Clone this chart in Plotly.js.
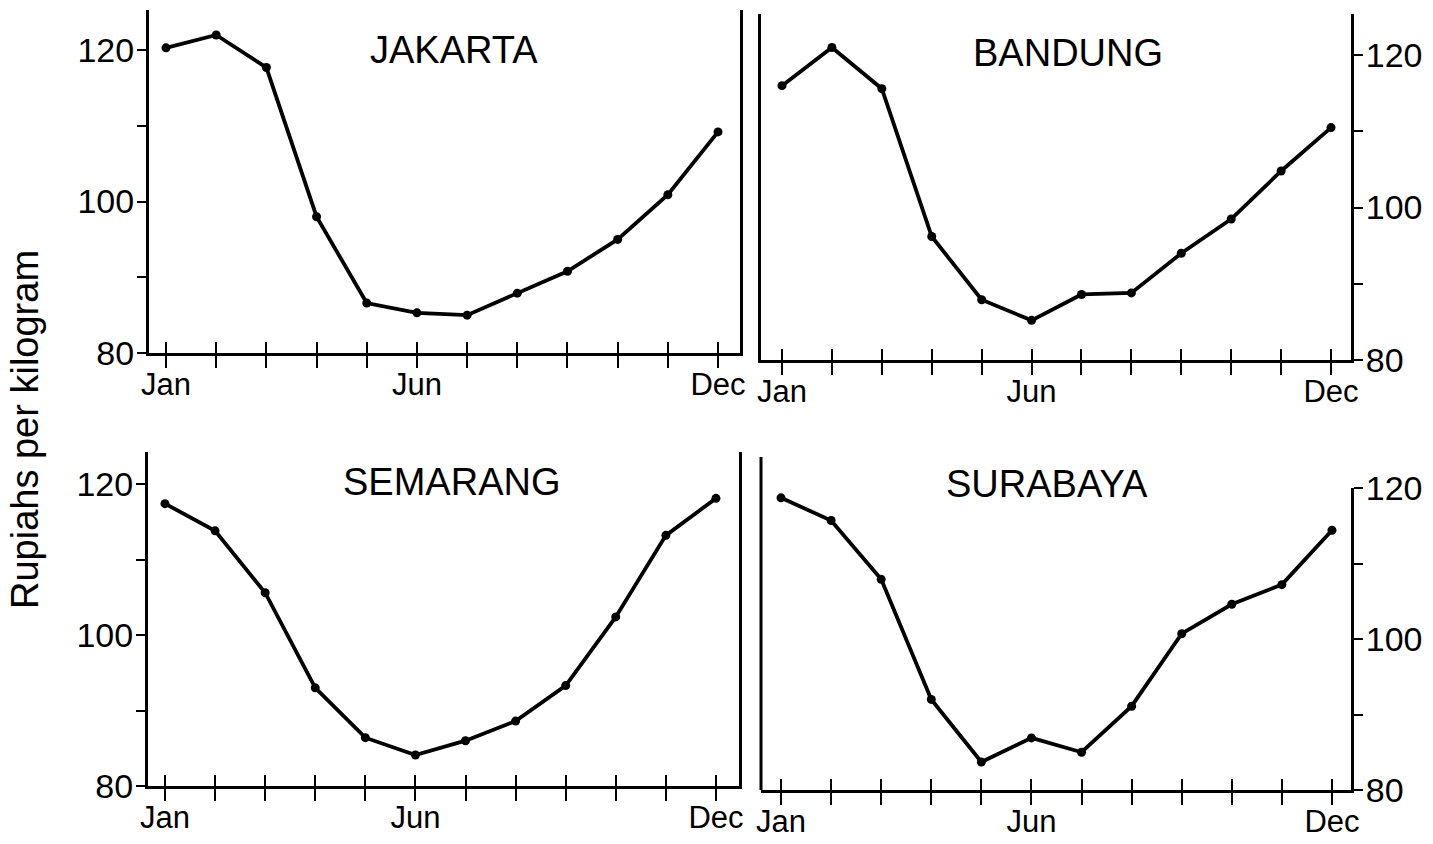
<!DOCTYPE html>
<html>
<head>
<meta charset="utf-8">
<script src="https://cdn.plot.ly/plotly-3.0.1.min.js"></script>
<style>html,body{margin:0;padding:0;background:#fff;}#chart{width:1433px;height:844px;}</style>
</head>
<body>
<div id="chart"></div>
<script>
// ---- data ----
const monthIndex = [1,2,3,4,5,6,7,8,9,10,11,12];
const monthTickText = ['Jan','','','','','Jun','','','','','','Dec'];
const cities = ['JAKARTA','BANDUNG','SEMARANG','SURABAYA'];
const jakarta  = [120.3, 122.0, 117.7, 98.0, 86.6, 85.3, 85.0, 87.9, 90.8, 95.0, 100.9, 109.2];
const bandung  = [116.0, 121.0, 115.6, 96.2, 87.9, 85.2, 88.6, 88.8, 94.0, 98.5, 104.8, 110.5];
const semarang = [117.4, 113.8, 105.6, 93.0, 86.4, 84.1, 86.0, 88.6, 93.3, 102.4, 113.2, 118.1];
const surabaya = [118.7, 115.7, 107.9, 92.0, 83.7, 86.9, 85.0, 91.1, 100.7, 104.6, 107.2, 114.4];
const yTickVals = [80, 90, 100, 110, 120];
const yTickText = ['80', '', '100', '', '120'];
const yAxisTitle = 'Rupiahs per kilogram';

// ---- layout helpers ----
const W = 1433, H = 844;
const px = x => x / W;
const py = y => 1 - y / H;
const FONT = 'Liberation Sans, Arial, sans-serif';

const series = [jakarta, bandung, semarang, surabaya];
const panels = [
  {x0:149, x1:740, y0:10,  y1:353, xr:[0.661,12.438], yr:[80,125.3], side:'left'},
  {x0:761, x1:1351, y0:14, y1:360, xr:[0.579,12.40],  yr:[80,125.4], side:'right'},
  {x0:148, x1:739, y0:452, y1:786, xr:[0.661,12.46],  yr:[80,124.24], side:'left'},
  {x0:761, x1:1351, y0:488, y1:790, xr:[0.60,12.38],  yr:[80,120], side:'right'}
];
const titlePos = [[454,50],[1068,53],[451,482],[1047,484]];

const data = [];
const layout = {
  width: W, height: H,
  margin: {l:0, r:0, t:0, b:0},
  paper_bgcolor: '#fff', plot_bgcolor: 'rgba(0,0,0,0)',
  showlegend: false,
  font: {family: FONT, color: '#000'},
  annotations: [], shapes: []
};

panels.forEach((p, i) => {
  const n = i + 1;
  const xa = n === 1 ? 'x' : 'x' + n;
  const ya = n === 1 ? 'y' : 'y' + n;
  data.push({
    x: monthIndex, y: series[i], xaxis: xa, yaxis: ya,
    type: 'scatter', mode: 'lines+markers',
    line: {color: '#000', width: 3.8},
    marker: {color: '#000', size: 9},
    cliponaxis: false, hoverinfo: 'skip'
  });
  const xKey = n === 1 ? 'xaxis' : 'xaxis' + n;
  const yKey = n === 1 ? 'yaxis' : 'yaxis' + n;
  layout[xKey] = {
    domain: [px(p.x0), px(p.x1)], range: p.xr, anchor: ya,
    showgrid: false, zeroline: false,
    showline: true, linecolor: '#000', linewidth: 3,
    ticks: 'outside', ticklen: 12, tickwidth: 2, tickcolor: '#000',
    tickvals: monthIndex, ticktext: monthTickText,
    tickfont: {family: FONT, size: 31, color: '#000'},
    ticklabelstandoff: -10,
    fixedrange: true
  };
  layout[yKey] = {
    domain: [py(p.y1), py(p.y0)], range: p.yr, anchor: xa, side: p.side,
    showgrid: false, zeroline: false,
    showline: true, linecolor: '#000', linewidth: 3,
    mirror: n !== 4,
    ticks: 'outside', ticklen: 9, tickwidth: 2, tickcolor: '#000',
    tickvals: yTickVals, ticktext: yTickText,
    tickfont: {family: FONT, size: 34, color: '#000'},
    ticklabelstandoff: -4,
    fixedrange: true
  };
  // overlay axis to make crossing x ticks
  const on = n + 4;
  layout['xaxis' + on] = {
    domain: [px(p.x0), px(p.x1)], range: p.xr, anchor: ya, overlaying: xa,
    showgrid: false, zeroline: false, showline: false,
    ticks: 'inside', ticklen: 11, tickwidth: 2, tickcolor: '#000',
    tickvals: monthIndex, showticklabels: false, fixedrange: true
  };
  layout.annotations.push({
    xref: 'paper', yref: 'paper', x: px(titlePos[i][0]), y: py(titlePos[i][1]),
    xanchor: 'center', yanchor: 'middle', showarrow: false,
    text: cities[i], font: {family: FONT, size: 38, color: '#000'}
  });
});

// dummy traces so overlay axes render
for (let n = 5; n <= 8; n++) {
  data.push({x: [], y: [], xaxis: 'x' + n, yaxis: n === 5 ? 'y' : 'y' + (n - 4), type: 'scatter', mode: 'lines', hoverinfo: 'skip'});
}

// left frame line of SURABAYA panel (taller than its axis)
layout.shapes.push({type: 'line', xref: 'paper', yref: 'paper',
  x0: px(761), x1: px(761), y0: py(457), y1: py(790), line: {color: '#000', width: 3}});

layout.annotations.push({
  xref: 'paper', yref: 'paper', x: px(25), y: py(430),
  xanchor: 'center', yanchor: 'middle', showarrow: false, textangle: -90,
  text: yAxisTitle, font: {family: FONT, size: 38, color: '#000'}
});

Plotly.newPlot('chart', data, layout, {staticPlot: true, displayModeBar: false});
</script>
</body>
</html>
